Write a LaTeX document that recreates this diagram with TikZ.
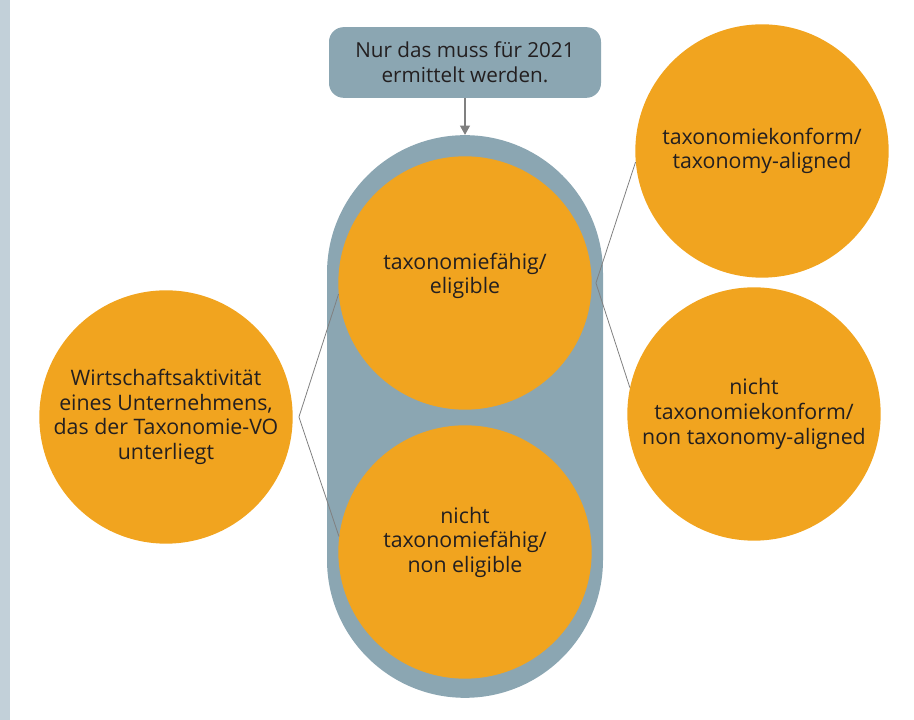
\documentclass[tikz,border=0pt]{standalone}
\usepackage{fontspec}
\setmainfont{Open Sans}
\usepackage{tikz}
\usetikzlibrary{arrows.meta}
\usetikzlibrary{shapes}
\definecolor{taxorange}{HTML}{F1A41F}
\definecolor{slate}{HTML}{8BA6B2}
\definecolor{sidebar}{HTML}{C2D0D9}
\definecolor{ink}{HTML}{231F20}
\definecolor{linkgray}{HTML}{808080}

\begin{document}
\begin{tikzpicture}[x=0.75pt,y=0.75pt,line join=round]
\tikzstyle{blob} = [circle,fill=taxorange,text=ink,align=center,inner sep=0pt,minimum size=190pt,font=\fontsize{16}{18.5}\selectfont]
\tikzstyle{link} = [draw=linkgray,line width=0.6pt]
\useasboundingbox (0,0) rectangle (914,720);
\fill[sidebar] (0,0) rectangle (10,720);
% note box and the pill holding both eligibility circles
\node[fill=slate,rounded corners=11pt,minimum width=204pt,minimum height=53pt,text=ink,align=center,
      font=\fontsize{15.5}{18.5}\selectfont] (note) at (465,657.5) {Nur das muss für 2021\\ermittelt werden.};
\node[fill=slate,rounded corners=103.5pt,minimum width=207pt,minimum height=422pt] (pill) at (465,303.5) {};
\draw[draw=linkgray,line width=0.8pt,-{Triangle[width=7.5pt,length=7pt]}] (note.south) -- (pill.north);
\node[blob] (eligible) at (465,437) {taxonomiefähig/\\eligible\\[-4pt]};
\node[blob] (noneligible) at (465,168) {nicht\\taxonomiefähig/\\non eligible\\[0pt]};
\node[blob] (activity) at (166,303) {Wirtschaftsaktivität\\eines Unternehmens,\\das der Taxonomie-VO\\unterliegt};
\node[blob] (aligned) at (762,569) {taxonomiekonform/\\taxonomy-aligned};
\node[blob] (nonaligned) at (754,306) {nicht\\taxonomiekonform/\\non taxonomy-aligned};
% forks
\coordinate (leftfork) at ([xshift=4.5pt]activity.east);
\coordinate (rightfork) at ([xshift=3pt]eligible.east);
\draw[link] (eligible.185) -- (leftfork) -- (noneligible.173);
\draw[link] (aligned.185) -- (rightfork) -- (nonaligned.168);
\end{tikzpicture}
\end{document}
